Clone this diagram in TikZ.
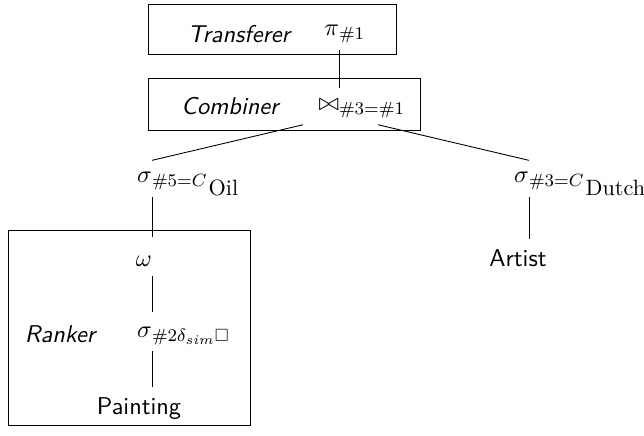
\documentclass[tikz,border=0pt,11pt]{standalone}
\usepackage{amsmath,amssymb}
\usepackage{tikz}
\tikzset{
  op/.style={inner xsep=0pt, inner ysep=4pt, text height=6pt, text depth=2pt, anchor=base},
  leaf/.style={font=\sffamily, inner ysep=4.5pt, text height=8pt, text depth=0pt, anchor=base},
  unit/.style={font=\sffamily\slshape, anchor=base}
}
% constant names in selection conditions
\newcommand{\cval}[1]{C_{\smash{\raisebox{-2.7pt}{\hspace{1.5pt}\small #1}}}}

\begin{document}
\begin{tikzpicture}[x=0.4505pt,y=-0.4505pt]
  \useasboundingbox (0,0) rectangle (644,436);
  % unit frames and their names
  \draw (148,4) rectangle (396,54);
  \draw (148,78) rectangle (420,130);
  \draw (8,230) rectangle (250,425);
  \node[unit] (transferer) at (239,43)  {Transferer};
  \node[unit] (combiner)   at (230,115) {Combiner};
  \node[unit] (ranker)     at (60,343)  {Ranker};
  % operators, centred on the end of the symbol
  \node[op] (pi)    at (339,36)  {\llap{$\pi$}\rlap{$_{\#1}$}};
  \node[op] (join)  at (339,111) {\llap{$\bowtie$}\rlap{$_{\#3=\#1}$}};
  \node[op] (oil)   at (152,183) {\llap{$\sigma$}\rlap{$_{\#5=\cval{Oil}}$}};
  \node[op] (dutch) at (529,183) {\llap{$\sigma$}\rlap{$_{\#3=\cval{Dutch}}$}};
  \node[op, text height=9.5pt, text depth=0pt] (omega) at (152,267) {\llap{$\omega$}};
  \node[op, text height=7.7pt, text depth=1.5pt] (sim) at (152,338) {\llap{$\sigma$}\rlap{$_{\#2\delta_{sim}\square}$}};
  % relations
  \node[leaf] (painting) at (139,415) {Painting};
  \node[leaf] (artist)   at (518,267) {Artist};
  \path[draw]
    (pi.south) edge (join.north)
    ([shift={(-36,0)}]join.south) edge (oil.north)
    ([shift={(39,0)}]join.south) edge (dutch.north)
    (oil.south) edge (omega.north)
    (omega.south) edge (sim.north)
    (sim.south) edge (sim.south |- painting.north)
    (dutch.south) edge (dutch.south |- artist.north);
\end{tikzpicture}
\end{document}
